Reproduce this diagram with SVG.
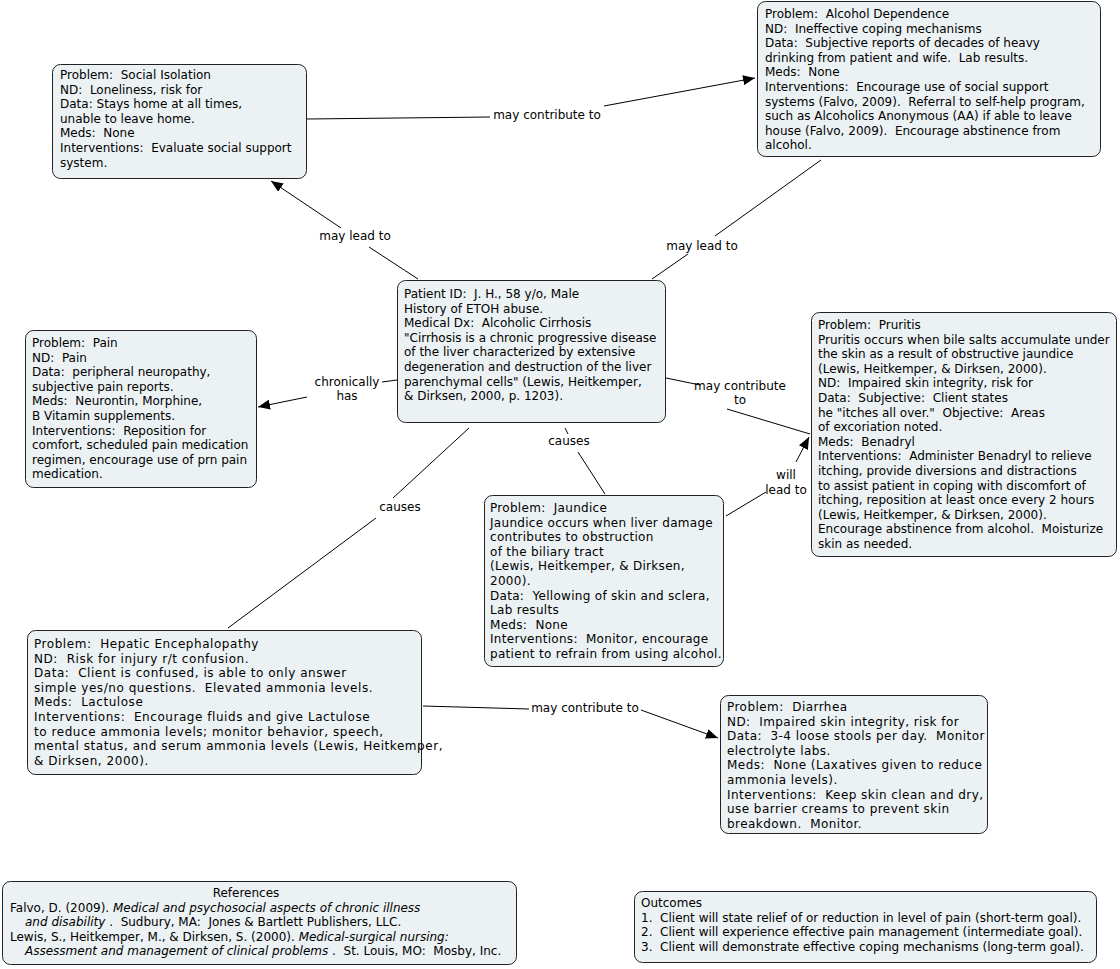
<svg xmlns="http://www.w3.org/2000/svg" width="1120" height="969" viewBox="0 0 1120 969">
<style>
  text { font-family: "DejaVu Sans", Verdana, sans-serif; font-size: 12px; fill: #000; white-space: pre; }
  .box { fill: #ecf2f4; stroke: #222; stroke-width: 1; }
  .lbl { text-anchor: middle; }
  .c line { stroke: #000; stroke-width: 1; }
  .it { font-style: italic; }
  #jaundice text { letter-spacing: 0.3px; }
  #hepatic text { letter-spacing: 0.55px; }
  #diarrhea text { letter-spacing: 0.45px; }
</style>
<defs>
  <marker id="arr" viewBox="0 0 12 10" refX="12" refY="5" markerWidth="12" markerHeight="10" markerUnits="userSpaceOnUse" orient="auto">
    <path d="M0,0 L12,5 L0,10 z" fill="#000"/>
  </marker>
</defs>
<rect width="1120" height="969" fill="#fff"/>

<g id="connectors" class="c">
  <line x1="307" y1="119" x2="490" y2="117"/>
  <line x1="604" y1="106" x2="755" y2="78" marker-end="url(#arr)"/>
  <text class="lbl" x="547" y="119">may contribute to</text>

  <line x1="418" y1="279" x2="369" y2="247"/>
  <line x1="341" y1="228" x2="271" y2="181" marker-end="url(#arr)"/>
  <text class="lbl" x="355" y="240">may lead to</text>

  <line x1="652" y1="279" x2="688" y2="254"/>
  <line x1="715" y1="236" x2="821" y2="160"/>
  <text class="lbl" x="702" y="250">may lead to</text>

  <line x1="397" y1="380" x2="382" y2="382"/>
  <line x1="307" y1="397" x2="258" y2="407" marker-end="url(#arr)"/>
  <text class="lbl" x="347" y="386">chronically</text>
  <text class="lbl" x="347" y="400">has</text>

  <line x1="666" y1="378" x2="700" y2="385"/>
  <line x1="727" y1="409" x2="810" y2="434"/>
  <text class="lbl" x="740" y="390">may contribute</text>
  <text class="lbl" x="740" y="404">to</text>

  <line x1="565" y1="428" x2="568" y2="434"/>
  <line x1="578" y1="452" x2="605" y2="494"/>
  <text class="lbl" x="569" y="445">causes</text>

  <line x1="469" y1="428" x2="393" y2="498"/>
  <line x1="376" y1="518" x2="228" y2="628"/>
  <text class="lbl" x="400" y="511">causes</text>

  <line x1="726" y1="516" x2="766" y2="492"/>
  <line x1="796" y1="462" x2="809" y2="437" marker-end="url(#arr)"/>
  <text class="lbl" x="786" y="479">will</text>
  <text class="lbl" x="786" y="494">lead to</text>

  <line x1="423" y1="706" x2="529" y2="709"/>
  <line x1="641" y1="710" x2="718" y2="738" marker-end="url(#arr)"/>
  <text class="lbl" x="585" y="712">may contribute to</text>
</g>

<g id="social">
  <rect class="box" x="52.5" y="64.5" width="254" height="114" rx="8"/>
  <text><tspan x="60" y="79">Problem:  Social Isolation</tspan><tspan x="60" y="93.6">ND:  Loneliness, risk for</tspan><tspan x="60" y="108.2">Data: Stays home at all times,</tspan><tspan x="60" y="122.8">unable to leave home.</tspan><tspan x="60" y="137.4">Meds:  None</tspan><tspan x="60" y="152">Interventions:  Evaluate social support</tspan><tspan x="60" y="166.6">system.</tspan></text>
</g>

<g id="alcohol">
  <rect class="box" x="757.5" y="1.5" width="343" height="155" rx="8"/>
  <text><tspan x="765" y="18">Problem:  Alcohol Dependence</tspan><tspan x="765" y="32.6">ND:  Ineffective coping mechanisms</tspan><tspan x="765" y="47.2">Data:  Subjective reports of decades of heavy</tspan><tspan x="765" y="61.8">drinking from patient and wife.  Lab results.</tspan><tspan x="765" y="76.4">Meds:  None</tspan><tspan x="765" y="91">Interventions:  Encourage use of social support</tspan><tspan x="765" y="105.6">systems (Falvo, 2009).  Referral to self-help program,</tspan><tspan x="765" y="120.2">such as Alcoholics Anonymous (AA) if able to leave</tspan><tspan x="765" y="134.8">house (Falvo, 2009).  Encourage abstinence from</tspan><tspan x="765" y="149.4">alcohol.</tspan></text>
</g>

<g id="patient">
  <rect class="box" x="397.5" y="280.5" width="268" height="142" rx="8"/>
  <text><tspan x="404" y="298">Patient ID:  J. H., 58 y/o, Male</tspan><tspan x="404" y="312.6">History of ETOH abuse.</tspan><tspan x="404" y="327.2">Medical Dx:  Alcoholic Cirrhosis</tspan><tspan x="404" y="341.8">"Cirrhosis is a chronic progressive disease</tspan><tspan x="404" y="356.4">of the liver characterized by extensive</tspan><tspan x="404" y="371">degeneration and destruction of the liver</tspan><tspan x="404" y="385.6">parenchymal cells" (Lewis, Heitkemper,</tspan><tspan x="404" y="400.2">&amp; Dirksen, 2000, p. 1203).</tspan></text>
</g>

<g id="pain">
  <rect class="box" x="25.5" y="330.5" width="231" height="157" rx="8"/>
  <text><tspan x="32" y="347">Problem:  Pain</tspan><tspan x="32" y="361.6">ND:  Pain</tspan><tspan x="32" y="376.2">Data:  peripheral neuropathy,</tspan><tspan x="32" y="390.8">subjective pain reports.</tspan><tspan x="32" y="405.4">Meds:  Neurontin, Morphine,</tspan><tspan x="32" y="420">B Vitamin supplements.</tspan><tspan x="32" y="434.6">Interventions:  Reposition for</tspan><tspan x="32" y="449.2">comfort, scheduled pain medication</tspan><tspan x="32" y="463.8">regimen, encourage use of prn pain</tspan><tspan x="32" y="478.4">medication.</tspan></text>
</g>

<g id="pruritis">
  <rect class="box" x="811.5" y="312.5" width="305" height="244" rx="8"/>
  <text><tspan x="818" y="329">Problem:  Pruritis</tspan><tspan x="818" y="343.6">Pruritis occurs when bile salts accumulate under</tspan><tspan x="818" y="358.2">the skin as a result of obstructive jaundice</tspan><tspan x="818" y="372.8">(Lewis, Heitkemper, &amp; Dirksen, 2000).</tspan><tspan x="818" y="387.4">ND:  Impaired skin integrity, risk for</tspan><tspan x="818" y="402">Data:  Subjective:  Client states</tspan><tspan x="818" y="416.6">he "itches all over."  Objective:  Areas</tspan><tspan x="818" y="431.2">of excoriation noted.</tspan><tspan x="818" y="445.8">Meds:  Benadryl</tspan><tspan x="818" y="460.4">Interventions:  Administer Benadryl to relieve</tspan><tspan x="818" y="475">itching, provide diversions and distractions</tspan><tspan x="818" y="489.6">to assist patient in coping with discomfort of</tspan><tspan x="818" y="504.2">itching, reposition at least once every 2 hours</tspan><tspan x="818" y="518.8">(Lewis, Heitkemper, &amp; Dirksen, 2000).</tspan><tspan x="818" y="533.4">Encourage abstinence from alcohol.  Moisturize</tspan><tspan x="818" y="548">skin as needed.</tspan></text>
</g>

<g id="jaundice">
  <rect class="box" x="484.5" y="495.5" width="239" height="171" rx="8"/>
  <text><tspan x="490" y="512">Problem:  Jaundice</tspan><tspan x="490" y="526.6">Jaundice occurs when liver damage</tspan><tspan x="490" y="541.2">contributes to obstruction</tspan><tspan x="490" y="555.8">of the biliary tract</tspan><tspan x="490" y="570.4">(Lewis, Heitkemper, &amp; Dirksen,</tspan><tspan x="490" y="585">2000).</tspan><tspan x="490" y="599.6">Data:  Yellowing of skin and sclera,</tspan><tspan x="490" y="614.2">Lab results</tspan><tspan x="490" y="628.8">Meds:  None</tspan><tspan x="490" y="643.4">Interventions:  Monitor, encourage</tspan><tspan x="490" y="658">patient to refrain from using alcohol.</tspan></text>
</g>

<g id="hepatic">
  <rect class="box" x="27.5" y="630.5" width="394" height="144" rx="8"/>
  <text><tspan x="34" y="648">Problem:  Hepatic Encephalopathy</tspan><tspan x="34" y="662.6">ND:  Risk for injury r/t confusion.</tspan><tspan x="34" y="677.2">Data:  Client is confused, is able to only answer</tspan><tspan x="34" y="691.8">simple yes/no questions.  Elevated ammonia levels.</tspan><tspan x="34" y="706.4">Meds:  Lactulose</tspan><tspan x="34" y="721">Interventions:  Encourage fluids and give Lactulose</tspan><tspan x="34" y="735.6">to reduce ammonia levels; monitor behavior, speech,</tspan><tspan x="34" y="750.2">mental status, and serum ammonia levels (Lewis, Heitkemper,</tspan><tspan x="34" y="764.8">&amp; Dirksen, 2000).</tspan></text>
</g>

<g id="diarrhea">
  <rect class="box" x="720.5" y="695.5" width="267" height="138" rx="8"/>
  <text><tspan x="727" y="711">Problem:  Diarrhea</tspan><tspan x="727" y="725.6">ND:  Impaired skin integrity, risk for</tspan><tspan x="727" y="740.2">Data:  3-4 loose stools per day.  Monitor</tspan><tspan x="727" y="754.8">electrolyte labs.</tspan><tspan x="727" y="769.4">Meds:  None (Laxatives given to reduce</tspan><tspan x="727" y="784">ammonia levels).</tspan><tspan x="727" y="798.6">Interventions:  Keep skin clean and dry,</tspan><tspan x="727" y="813.2">use barrier creams to prevent skin</tspan><tspan x="727" y="827.8">breakdown.  Monitor.</tspan></text>
</g>

<g id="references">
  <rect class="box" x="2.5" y="881.5" width="514" height="83" rx="8"/>
  <text class="lbl" x="246" y="897">References</text>
  <text x="10" y="911.6">Falvo, D. (2009). <tspan class="it">Medical and psychosocial aspects of chronic illness</tspan></text>
  <text x="25" y="926.2"><tspan class="it">and disability</tspan> .  Sudbury, MA:  Jones &amp; Bartlett Publishers, LLC.</text>
  <text x="10" y="940.8">Lewis, S., Heitkemper, M., &amp; Dirksen, S. (2000). <tspan class="it">Medical-surgical nursing:</tspan></text>
  <text x="25" y="955.4"><tspan class="it">Assessment and management of clinical problems</tspan> .  St. Louis, MO:  Mosby, Inc.</text>
</g>

<g id="outcomes">
  <rect class="box" x="634.5" y="891.5" width="462" height="71" rx="8"/>
  <text><tspan x="641" y="907">Outcomes</tspan><tspan x="641" y="921.6">1.  Client will state relief of or reduction in level of pain (short-term goal).</tspan><tspan x="641" y="936.2">2.  Client will experience effective pain management (intermediate goal).</tspan><tspan x="641" y="950.8">3.  Client will demonstrate effective coping mechanisms (long-term goal).</tspan></text>
</g>
</svg>
